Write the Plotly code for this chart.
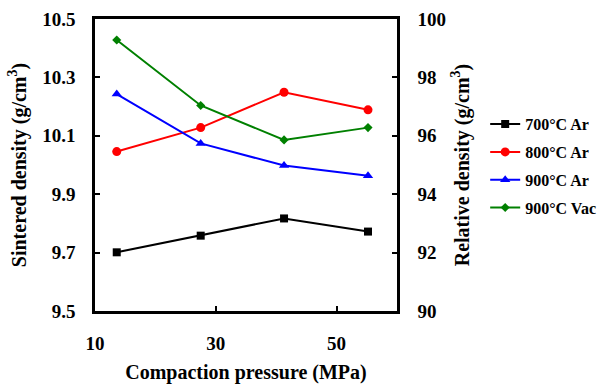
import plotly.graph_objects as go

pressure = [13.6, 27.5, 41.3, 55.2]
series_names = ["700°C Ar", "800°C Ar", "900°C Ar", "900°C Vac"]
d700ar = [9.701, 9.758, 9.817, 9.772]
d800ar = [10.046, 10.128, 10.249, 10.189]
d900ar = [10.243, 10.074, 9.998, 9.963]
d900vac = [10.428, 10.204, 10.086, 10.128]

colors = ["black", "red", "blue", "green"]
symbols = ["square", "circle", "triangle-up", "diamond"]
sizes = [8, 9, 9, 7]
values = [d700ar, d800ar, d900ar, d900vac]

FONT = "Liberation Serif"

fig = go.Figure()
for i, (name, vals) in enumerate(zip(series_names, values)):
    fig.add_trace(go.Scatter(
        x=pressure, y=vals, name=name, mode="lines+markers",
        line=dict(color=colors[i], width=2),
        marker=dict(symbol=symbols[i], size=sizes[i], color=colors[i]),
        legendgroup=f"g{i}",
    ))
# invisible trace to anchor the secondary axis
fig.add_trace(go.Scatter(x=[None], y=[None], yaxis="y2", showlegend=False, hoverinfo="skip"))

tickfont = dict(family=FONT, size=19, color="black", weight="bold")
titlefont = dict(family=FONT, size=20, color="black", weight="bold")

fig.update_layout(
    width=597, height=385,
    margin=dict(l=95, r=200, t=19, b=74, autoexpand=False),
    plot_bgcolor="white", paper_bgcolor="white",
    font=dict(family=FONT, color="black", weight="bold"),
    xaxis=dict(
        range=[10, 60], tickvals=[10, 30, 50], ticks="inside", ticklen=5, tickwidth=2,
        tickcolor="black", showline=True, linecolor="black", linewidth=2.5, mirror=True,
        showgrid=False, zeroline=False, tickfont=tickfont, ticklabelstandoff=13,
        automargin=False,
        title=dict(text="Compaction pressure (MPa)", font=titlefont, standoff=13),
    ),
    yaxis=dict(
        range=[9.5, 10.5], tickvals=[9.5, 9.7, 9.9, 10.1, 10.3, 10.5], tickformat=".1f",
        ticks="inside", ticklen=5, tickwidth=2, tickcolor="black",
        showline=True, linecolor="black", linewidth=2.5, showgrid=False, zeroline=False,
        tickfont=tickfont, ticklabelstandoff=13, automargin=False,
        title=dict(text="Sintered density (g/cm<sup>3</sup>)", font=titlefont, standoff=11),
    ),
    yaxis2=dict(
        range=[90, 100], tickvals=[90, 92, 94, 96, 98, 100], overlaying="y", side="right",
        showline=True, linecolor="black", linewidth=2.5, showgrid=False, zeroline=False,
        ticks="inside", ticklen=5, tickwidth=2, tickcolor="black",
        tickfont=tickfont, ticklabelstandoff=14, automargin=False,
        title=dict(text="Relative density (g/cm<sup>3</sup>)", font=titlefont, standoff=10),
    ),
    legend=dict(
        x=1.292, y=0.698, xanchor="left", yanchor="top",
        font=dict(family=FONT, size=16, color="black", weight="bold"),
        itemwidth=30, tracegroupgap=4, bgcolor="rgba(0,0,0,0)",
    ),
    showlegend=True,
)

fig.write_html("out.html")
